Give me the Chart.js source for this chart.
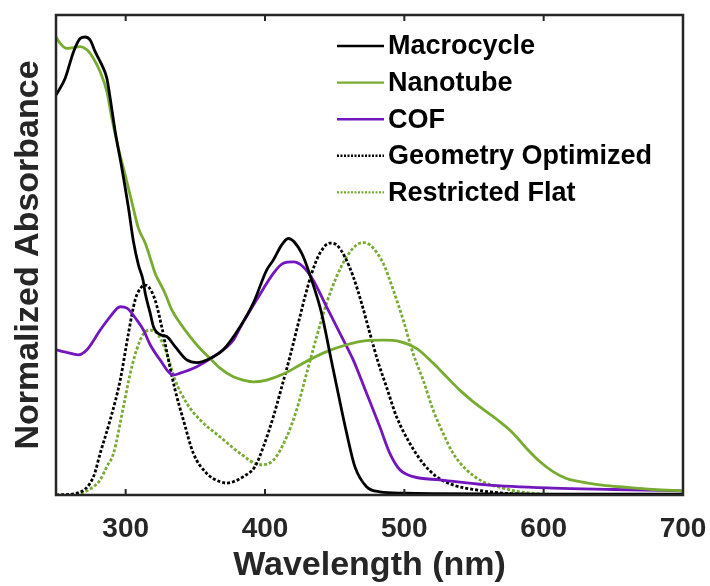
<!DOCTYPE html>
<html>
<head>
<meta charset="utf-8">
<script src="https://cdn.jsdelivr.net/npm/chart.js@4.4.1/dist/chart.umd.min.js"></script>
<style>
  html, body { margin: 0; padding: 0; background: #fff; }
  #wrap { width: 710px; height: 586px; }
</style>
</head>
<body>
<div id="wrap"><canvas id="absChart"></canvas></div>
<script>
// ── DATA (wavelength in nm, normalized absorbance) ──
const xTicks = [300, 400, 500, 600, 700];

const macroX = [250, 256.6, 262.6, 267.4, 271, 274.6, 278.1, 282.9, 286.5, 288.9, 292.5, 297.3, 302, 305.6, 309.2, 312.5, 314, 317.6, 320, 325.9, 329.5, 335.5, 343.9, 351, 360.6, 370, 382, 391.6, 401.2, 406, 412, 416.7, 426.3, 433.5, 440.6, 446.6, 452.5, 458.6, 464.5, 472.9, 482.4, 500, 525, 600, 700];
const macroY = [0.873, 0.91, 0.968, 0.997, 1.0, 0.993, 0.968, 0.939, 0.91, 0.866, 0.793, 0.713, 0.627, 0.553, 0.502, 0.469, 0.441, 0.397, 0.367, 0.349, 0.346, 0.324, 0.295, 0.289, 0.298, 0.317, 0.367, 0.419, 0.491, 0.513, 0.546, 0.56, 0.528, 0.469, 0.397, 0.309, 0.222, 0.135, 0.062, 0.018, 0.007, 0.004, 0.003, 0.002, 0.002];

const tubeX = [250, 253, 257.8, 262.6, 267.4, 272.2, 276.9, 281.7, 286.5, 290.1, 294.8, 299.6, 304.4, 309.2, 314, 318.8, 321.1, 324.7, 328.3, 333.1, 339.1, 346.2, 353.4, 360.6, 367.7, 377.3, 384.4, 391.6, 401.2, 413.1, 425.1, 429.9, 444.2, 458.6, 472.9, 484.8, 496.8, 508.7, 520.6, 530.3, 539.8, 549.3, 558.9, 568.5, 578, 587.6, 597.2, 606.7, 616.3, 625.9, 640.2, 654.6, 678.5, 700];
const tubeY = [1.0, 0.986, 0.975, 0.977, 0.979, 0.972, 0.953, 0.924, 0.881, 0.822, 0.757, 0.699, 0.640, 0.582, 0.55, 0.506, 0.484, 0.462, 0.440, 0.404, 0.375, 0.346, 0.320, 0.298, 0.277, 0.258, 0.251, 0.247, 0.251, 0.264, 0.284, 0.292, 0.313, 0.328, 0.337, 0.338, 0.335, 0.320, 0.288, 0.258, 0.229, 0.204, 0.182, 0.160, 0.135, 0.102, 0.073, 0.051, 0.036, 0.029, 0.022, 0.018, 0.012, 0.009];

const cofX = [250, 257, 266.2, 272.2, 281.7, 288.8, 296.1, 300.9, 308, 312.8, 317.6, 324.7, 334, 339.1, 351, 362.9, 377.3, 382.1, 394, 406, 413.1, 420.3, 427.5, 434.6, 444.2, 453.8, 463.3, 472.9, 482.4, 489.6, 496.8, 506.3, 525.4, 558.9, 606.7, 650, 700];
const cofY = [0.317, 0.312, 0.306, 0.317, 0.360, 0.389, 0.411, 0.408, 0.382, 0.360, 0.328, 0.295, 0.262, 0.266, 0.280, 0.302, 0.338, 0.365, 0.426, 0.484, 0.506, 0.509, 0.498, 0.469, 0.411, 0.353, 0.295, 0.222, 0.149, 0.091, 0.055, 0.040, 0.033, 0.022, 0.015, 0.012, 0.009];

const geoX = [250, 265, 276.9, 281.7, 288.9, 296.1, 302, 306.8, 311.6, 314, 316.3, 321.1, 325.9, 330.7, 335.5, 341.4, 348.6, 358.2, 367.7, 372.5, 377.3, 384.4, 392.8, 398.8, 406, 412, 417.9, 423.9, 428.7, 433.5, 439.4, 446.6, 451.4, 457.3, 463.3, 469.3, 475.2, 481.2, 487.2, 494.4, 503.9, 513.5, 523.1, 535, 551.7, 570.8, 600, 650, 700];
const geoY = [0, 0.004, 0.040, 0.091, 0.164, 0.251, 0.353, 0.426, 0.455, 0.458, 0.455, 0.426, 0.367, 0.295, 0.229, 0.164, 0.091, 0.047, 0.029, 0.026, 0.029, 0.040, 0.062, 0.105, 0.171, 0.236, 0.302, 0.375, 0.433, 0.484, 0.528, 0.550, 0.546, 0.520, 0.477, 0.419, 0.354, 0.290, 0.236, 0.171, 0.113, 0.069, 0.040, 0.022, 0.011, 0.004, 0.001, 0, 0];

const flatX = [250, 267.4, 276.9, 281.7, 286.5, 291.3, 298.4, 304.4, 311.6, 317.6, 323.5, 329.5, 335.5, 343.9, 353.4, 367.7, 382.1, 396.4, 406, 415.6, 422.7, 429.9, 437.1, 444.2, 451.4, 458.6, 465.7, 470.5, 475.3, 484.8, 492, 499.2, 506.3, 513.5, 520.6, 527.8, 535, 544.6, 556.5, 570.9, 582.8, 600, 620];
const flatY = [0, 0.004, 0.018, 0.033, 0.062, 0.091, 0.193, 0.280, 0.346, 0.360, 0.349, 0.309, 0.251, 0.200, 0.164, 0.127, 0.091, 0.066, 0.076, 0.127, 0.186, 0.266, 0.346, 0.419, 0.477, 0.520, 0.546, 0.551, 0.546, 0.506, 0.448, 0.382, 0.309, 0.251, 0.186, 0.135, 0.091, 0.055, 0.029, 0.015, 0.007, 0.002, 0];

const GREEN  = '#77AC30';
const PURPLE = '#7216BE';
const AXIS   = '#262626';
const FONT   = "'Liberation Sans', Arial, Helvetica, sans-serif";

const pts = (xs, ys) => xs.map((x, i) => ({ x: x, y: ys[i] }));

// ── BOX + INWARD TICKS ──
const boxPlugin = {
    id: 'boxTicks',
    afterDatasetsDraw(chart) {
        const { ctx, chartArea: a, scales: { x } } = chart;
        ctx.save();
        ctx.strokeStyle = AXIS;
        ctx.lineWidth = 2;
        xTicks.forEach(t => {
            const px = x.getPixelForValue(t);
            ctx.beginPath();
            ctx.moveTo(px, a.top); ctx.lineTo(px, a.top + 6);
            ctx.moveTo(px, a.bottom); ctx.lineTo(px, a.bottom - 6);
            ctx.stroke();
        });
        ctx.lineWidth = 2.5;
        ctx.strokeRect(a.left, a.top, a.right - a.left, a.bottom - a.top);
        ctx.restore();
    }
};

// ── LEGEND INSIDE THE PLOT ──
const legendPlugin = {
    id: 'insideLegend',
    afterDraw(chart) {
        const ctx = chart.ctx;
        ctx.save();
        chart.data.datasets.forEach((ds, i) => {
            const y = 46 + i * 36.6;
            ctx.strokeStyle = ds.borderColor;
            ctx.lineWidth = 2.4;
            ctx.setLineDash(ds.borderDash ? [2, 1.5] : []);
            ctx.beginPath();
            ctx.moveTo(337, y); ctx.lineTo(384, y);
            ctx.stroke();
            ctx.setLineDash([]);
            ctx.fillStyle = '#000';
            ctx.font = 'bold 27px ' + FONT;
            ctx.textBaseline = 'middle';
            ctx.fillText(ds.label, 388, y + 1);
        });
        ctx.restore();
    }
};

const common = { pointRadius: 0, borderWidth: 2.8, cubicInterpolationMode: 'monotone', fill: false };

new Chart(document.getElementById('absChart'), {
    type: 'line',
    data: {
        datasets: [
            { ...common, label: 'Macrocycle', data: pts(macroX, macroY), borderColor: '#000' },
            { ...common, label: 'Nanotube', data: pts(tubeX, tubeY), borderColor: GREEN },
            { ...common, label: 'COF', data: pts(cofX, cofY), borderColor: PURPLE },
            { ...common, label: 'Geometry Optimized', data: pts(geoX, geoY), borderColor: '#000', borderDash: [3, 2] },
            { ...common, label: 'Restricted Flat', data: pts(flatX, flatY), borderColor: GREEN, borderDash: [3, 2] }
        ]
    },
    options: {
        responsive: true,
        maintainAspectRatio: false,
        animation: false,
        layout: { padding: { top: 15, right: 27, left: 0, bottom: 0 } },
        plugins: { legend: { display: false }, tooltip: { enabled: false } },
        scales: {
            x: {
                type: 'linear',
                min: 250,
                max: 700,
                afterBuildTicks: (s) => { s.ticks = xTicks.map(v => ({ value: v })); },
                afterFit: (s) => { s.height = 91; s.paddingLeft = 0; s.paddingRight = 0; },
                grid: { display: false, drawTicks: false },
                border: { display: false },
                ticks: {
                    autoSkip: false,
                    maxRotation: 0,
                    padding: 17,
                    color: AXIS,
                    font: { family: FONT, size: 28, weight: 'bold' }
                },
                title: {
                    display: true,
                    text: 'Wavelength (nm)',
                    color: AXIS,
                    padding: 0,
                    font: { family: FONT, size: 34, weight: 'bold' }
                }
            },
            y: {
                min: 0,
                max: 1.048,
                afterFit: (s) => { s.width = 56; },
                grid: { display: false, drawTicks: false },
                border: { display: false },
                ticks: { display: false },
                title: {
                    display: true,
                    text: 'Normalized Absorbance',
                    color: AXIS,
                    padding: { top: 8, bottom: 0 },
                    font: { family: FONT, size: 34, weight: 'bold' }
                }
            }
        }
    },
    plugins: [boxPlugin, legendPlugin]
});
</script>
</body>
</html>
